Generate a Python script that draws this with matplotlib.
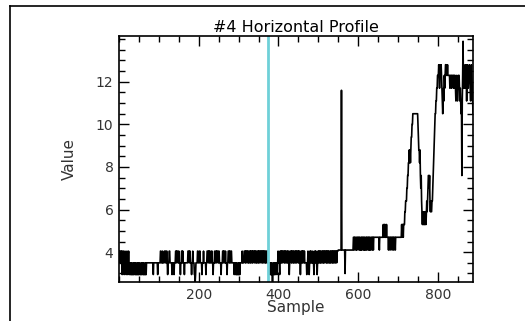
import numpy as np
import matplotlib
matplotlib.use('Agg')
import matplotlib.pyplot as plt
from matplotlib.lines import Line2D
from matplotlib.ticker import MultipleLocator

# quantised levels seen in the profile
DP, LO, BA, HI = 2.6, 2.95, 3.5, 4.05

# (value, repeat) runs, samples 0..552 (noisy baseline)
baseline_runs = [
    (HI, 2), (BA, 1), (HI, 3), (BA, 1), (HI, 1), (LO, 1), (BA, 1), (HI, 2), (BA, 1), (LO, 1),
    (BA, 1), (HI, 1), (BA, 2), (LO, 1), (BA, 1), (HI, 1), (BA, 1), (LO, 1), (BA, 1), (HI, 1),
    (BA, 1), (LO, 1), (BA, 2),
    (LO, 2), (BA, 1), (LO, 3), (BA, 1), (LO, 2), (BA, 2), (LO, 1), (BA, 1), (LO, 3), (BA, 1),
    (LO, 2), (BA, 1), (LO, 2), (BA, 2), (LO, 3), (BA, 1), (LO, 1), (BA, 2), (LO, 2), (BA, 1),
    (LO, 3), (BA, 1), (LO, 2), (BA, 3), (BA, 2),
    (BA, 12), (LO, 1), (BA, 10), (LO, 1), (BA, 6),
    (HI, 2), (BA, 3), (HI, 1), (BA, 4), (HI, 3), (BA, 2), (HI, 2), (BA, 1), (LO, 1), (BA, 3), (HI, 2), (BA, 2),
    (BA, 3), (LO, 1), (BA, 4), (LO, 1), (BA, 3), (HI, 2), (BA, 1), (HI, 3), (BA, 2), (HI, 1),
    (BA, 3), (LO, 1), (BA, 2), (HI, 2), (BA, 1), (HI, 1), (BA, 3), (LO, 1), (BA, 4),
    (BA, 4), (HI, 3), (BA, 1), (HI, 2), (BA, 3), (LO, 1), (BA, 2), (HI, 1), (BA, 3), (LO, 2),
    (DP, 1), (LO, 1), (BA, 4), (HI, 2),
    (BA, 3), (HI, 2), (BA, 4), (LO, 1), (BA, 3), (HI, 1), (BA, 5), (LO, 1), (BA, 2), (HI, 3),
    (BA, 1), (HI, 2), (BA, 1), (HI, 1), (BA, 3), (HI, 2), (BA, 2), (LO, 1), (BA, 3), (HI, 1), (BA, 2),
    (HI, 2), (BA, 1), (HI, 3), (BA, 2), (HI, 1), (BA, 4), (LO, 1), (BA, 3), (HI, 2), (BA, 1),
    (HI, 2), (BA, 2), (HI, 1), (BA, 3), (LO, 1), (BA, 2), (HI, 3), (BA, 1), (HI, 1), (BA, 2),
    (HI, 2), (BA, 6), (LO, 1), (BA, 3),
    (LO, 2), (BA, 1), (LO, 3), (BA, 1), (LO, 2), (BA, 1), (LO, 1),
    (BA, 5), (HI, 1), (BA, 4), (HI, 1),
    (HI, 2), (BA, 1), (HI, 1), (BA, 1), (HI, 3), (BA, 1), (HI, 1), (BA, 2), (HI, 2), (BA, 1),
    (HI, 1), (BA, 1), (HI, 2), (BA, 1), (HI, 1), (BA, 1), (HI, 3), (BA, 1), (HI, 2), (BA, 1),
    (HI, 1), (BA, 2), (HI, 2), (BA, 1), (HI, 1), (BA, 1), (HI, 2), (BA, 1), (HI, 3), (BA, 1),
    (HI, 1), (BA, 1), (HI, 2), (BA, 1), (HI, 2), (BA, 1), (HI, 1), (BA, 2), (HI, 2), (BA, 1),
    (HI, 1), (BA, 3),
    (BA, 2), (LO, 1), (BA, 1), (LO, 2), (BA, 1), (LO, 1), (DP, 1), (LO, 1), (BA, 2), (LO, 2),
    (BA, 1), (LO, 1), (BA, 3), (LO, 1), (BA, 2), (HI, 1), (BA, 3), (LO, 1),
    (HI, 2), (BA, 1), (HI, 1), (BA, 1), (HI, 2), (BA, 1), (HI, 3), (BA, 1), (HI, 1), (BA, 1),
    (HI, 2), (BA, 2), (HI, 1), (BA, 1), (HI, 2), (BA, 1), (LO, 1), (BA, 1), (HI, 3), (BA, 1),
    (HI, 1), (BA, 1), (HI, 2), (BA, 1), (HI, 1), (BA, 2), (HI, 2), (BA, 1), (HI, 1), (BA, 1),
    (HI, 3), (BA, 1), (HI, 1), (BA, 1), (HI, 2), (BA, 1), (LO, 1), (BA, 1), (HI, 2), (BA, 1),
    (HI, 1), (BA, 1), (HI, 2), (BA, 1), (HI, 1), (BA, 2),
    (BA, 3), (LO, 1), (BA, 2), (HI, 1), (BA, 2), (LO, 1), (BA, 1), (HI, 2), (BA, 1), (HI, 1),
    (BA, 3), (HI, 1), (BA, 2), (LO, 1), (BA, 1), (HI, 2), (BA, 1), (HI, 1), (BA, 2), (LO, 1), (BA, 1),
    (HI, 1), (BA, 1), (HI, 2), (BA, 1), (HI, 1), (BA, 1), (HI, 1), (BA, 2), (HI, 2), (BA, 1),
    (HI, 1), (BA, 1), (HI, 1), (BA, 1), (HI, 3), (BA, 1), (HI, 1), (BA, 1), (HI, 1), (BA, 1),
    (HI, 2), (BA, 1), (HI, 1), (BA, 2), (HI, 1), (BA, 1), (HI, 2), (BA, 1), (HI, 1), (BA, 1),
    (HI, 1), (BA, 1), (HI, 2), (BA, 1), (HI, 1), (BA, 1), (HI, 2), (BA, 1), (HI, 3),
]

# samples 552..715: step up, single spike, then 4.1 / 4.7 plateau
plateau_runs = [
    (4.1, 8), (11.6, 1), (4.1, 8), (3.0, 1), (4.1, 20),
    (4.7, 2), (4.1, 1), (4.7, 3), (4.1, 2), (4.7, 1), (4.1, 1), (4.7, 4), (4.1, 1), (4.7, 2),
    (4.1, 2), (4.7, 1), (4.1, 1), (4.7, 3), (4.1, 1), (4.7, 2), (4.1, 1), (4.7, 1), (4.1, 2),
    (4.7, 2), (4.1, 1), (4.7, 3), (4.1, 1), (4.7, 2), (4.1, 1), (4.7, 1), (4.1, 2), (4.7, 3),
    (4.1, 1), (4.7, 2), (4.1, 1), (4.7, 4),
    (4.7, 10), (4.1, 1), (4.7, 9), (5.3, 1), (4.7, 2), (5.3, 2), (4.7, 3), (5.3, 1), (4.7, 4),
    (4.1, 1), (4.7, 3), (4.1, 1), (4.7, 4), (4.1, 1), (4.7, 3), (4.1, 1), (4.7, 3), (4.1, 1),
    (4.7, 10), (4.7, 4),
]

# samples 710..890, one value per sample
tail_values = [
    4.7, 5.3, 4.7, 5.3, 5.3, 4.7, 5.3,
    5.3, 5.3, 5.9, 5.9, 6.4, 6.4, 6.4, 7.0, 7.0, 7.6, 7.6, 8.2, 8.2, 8.8, 8.2, 8.8, 8.2, 8.8,
    9.4, 9.4, 10.0, 10.0, 10.5, 10.5,
    10.5, 10.5, 10.5, 10.5, 10.5, 10.5, 10.5, 10.5, 10.5, 10.5, 10.5,
    10.0, 9.4, 8.8, 8.8, 8.2, 8.8, 7.6, 7.0, 7.6, 6.4, 5.9,
    5.3, 5.9, 5.3, 5.9, 5.3, 5.3, 5.9, 5.3, 5.9, 5.3, 5.9, 6.4, 5.9,
    6.4, 7.0, 7.6, 7.6, 7.0, 7.6, 6.4,
    5.9, 6.4, 5.9, 5.9, 6.4, 6.4, 7.0,
    7.6, 8.2, 8.8, 9.4, 10.0, 10.5, 10.5, 11.1, 11.1, 11.7, 11.7, 12.3,
    12.3, 12.3, 12.8, 12.3, 11.7, 12.3, 12.8, 12.3, 12.8, 12.3, 11.7,
    11.1, 10.5, 11.1, 11.7, 11.1, 12.3, 11.7, 12.3, 12.8,
    12.8, 12.3, 12.8, 12.3, 12.8, 12.3,
    12.3, 12.3, 12.3, 12.3, 11.7, 12.3, 12.3, 12.3, 11.7, 12.3, 12.3, 12.3, 12.3, 11.7, 12.3, 12.3, 11.7,
    12.3, 11.7, 11.1, 11.7, 12.3, 11.7, 11.1, 11.7, 12.3, 12.3, 12.3, 11.7, 11.1, 11.7, 11.1, 10.5, 11.1,
    7.6, 11.1, 12.3, 13.9, 11.7, 12.8, 11.7, 12.3,
    12.3, 11.7, 12.8, 12.3, 11.1, 12.3, 12.8, 12.3, 11.7, 12.3, 12.3, 12.8, 12.3, 11.7, 11.1,
    12.3, 12.8, 12.3, 11.7, 11.1, 10.5,
]

x_labels = [200, 400, 600, 800]
y_labels = [4, 6, 8, 10, 12]
marker_sample = 373

values = []
for v, n in baseline_runs + plateau_runs:
    values += [v] * n
values = values[:710] + tail_values
samples = np.arange(len(values))

fig = plt.figure(figsize=(5.25, 3.21), dpi=100)
ax = fig.add_axes([0.2267, 0.1215, 0.6743, 0.7664])

ax.plot(samples, values, color='black', lw=1.2)
ax.axvline(marker_sample, color='#6fd0d8', lw=2)

ax.set_xlim(0, len(values) - 1)
ax.set_ylim(2.6, 14.15)
ax.set_xticks(x_labels)
ax.set_yticks(y_labels)
ax.xaxis.set_minor_locator(MultipleLocator(50))
ax.yaxis.set_minor_locator(MultipleLocator(0.5))
ax.tick_params(which='both', direction='in', top=True, right=True, width=1,
               labelsize=10, labelcolor='#333333', pad=4)
ax.tick_params(which='major', length=7)
ax.tick_params(which='minor', length=4)
for s in ax.spines.values():
    s.set_linewidth(1.2)

ax.set_title('#4 Horizontal Profile', fontsize=11.5, pad=3)
ax.set_xlabel('Sample', fontsize=11, color='#333333', labelpad=-1)
ax.set_ylabel('Value', fontsize=11, color='#333333', labelpad=14)

# window frame around the picture
fig.add_artist(Line2D([10 / 525, 1], [1 - 6 / 321, 1 - 6 / 321], color='black', lw=1.2))
fig.add_artist(Line2D([10 / 525, 10 / 525], [0, 1 - 6 / 321], color='black', lw=1.2))

fig.savefig('out.png', dpi=100)
